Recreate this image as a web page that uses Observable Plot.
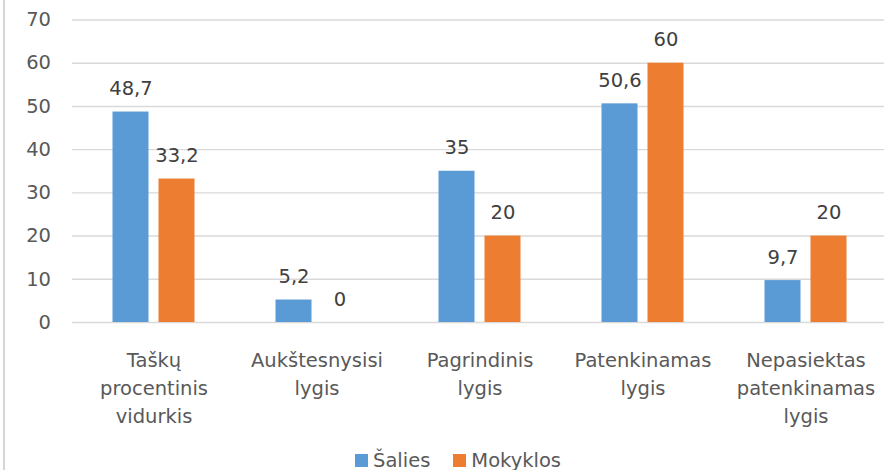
<!DOCTYPE html>
<html>
<head>
<meta charset="utf-8">
<script src="https://cdn.jsdelivr.net/npm/d3@7"></script>
<script src="https://cdn.jsdelivr.net/npm/@observablehq/plot@0.6"></script>
<style>
  html, body { margin: 0; padding: 0; background: #fff; }
  #wrap { position: relative; width: 884px; height: 470px; overflow: hidden; }
  #border { position: absolute; left: 3px; top: 0; width: 2px; height: 470px; background: #d6d6d6; }
  #legend { display: flex; align-items: center; height: 24px; padding-top: 2px; padding-left: 355px;
            font-family: "DejaVu Sans", sans-serif; font-size: 19.5px; color: #595959; }
  .sw { width: 13px; height: 13px; display: inline-block; margin-right: 5px; }
  .item { display: flex; align-items: center; margin-right: 23px; }
</style>
</head>
<body>
<div id="wrap"><div id="border"></div><div id="chart"></div><div id="legend"></div></div>
<script>
const categories = ["Taškų\nprocentinis\nvidurkis", "Aukštesnysisi\nlygis", "Pagrindinis\nlygis", "Patenkinamas\nlygis", "Nepasiektas\npatenkinamas\nlygis"];
const series = ["Šalies", "Mokyklos"];
const salies = [48.7, 5.2, 35, 50.6, 9.7];
const mokyklos = [33.2, 0, 20, 60, 20];
const colors = ["#5B9BD5", "#ED7D31"];
const yTicks = [0, 10, 20, 30, 40, 50, 60, 70];

const data = categories.flatMap((c, i) => [
  {category: c, series: series[0], value: salies[i]},
  {category: c, series: series[1], value: mokyklos[i]}
]);
const fmt = v => String(v).replace(".", ",");

const chart = Plot.plot({
  width: 884, height: 446,
  marginLeft: 71.5, marginRight: -2.5, marginTop: 19.5, marginBottom: 124,
  style: {fontFamily: "DejaVu Sans, sans-serif", fontSize: "19.5px", color: "#595959", background: "transparent"},
  fx: {domain: categories, padding: 0, label: null},
  x: {domain: series, paddingInner: 10 / 46, paddingOuter: 0.8804, axis: null},
  y: {domain: [0, 70], label: null},
  color: {domain: series, range: colors},
  marks: [
    Plot.ruleY(yTicks, {stroke: "#d9d9d9", strokeWidth: 1.4}),
    Plot.axisY({ticks: yTicks, tickSize: 0, tickPadding: 21.5, fontSize: 19.5, fill: "#595959", label: null}),
    Plot.axisFx({anchor: "bottom", tickSize: 0, tickPadding: 25, lineHeight: 28 / 19.5, fontSize: 19.5, fill: "#595959", label: null}),
    Plot.barY(data, {fx: "category", x: "series", y: "value", fill: "series"}),
    Plot.text(data, {fx: "category", x: "series", y: "value", text: d => fmt(d.value), lineAnchor: "bottom", dy: -17, fill: "#404040", fontSize: 19.5})
  ]
});
document.getElementById("chart").append(chart);

const legend = document.getElementById("legend");
series.forEach((s, i) => {
  const item = document.createElement("span");
  item.className = "item";
  item.innerHTML = `<span class="sw" style="background:${colors[i]}"></span><span>${s}</span>`;
  legend.append(item);
});
</script>
</body>
</html>
